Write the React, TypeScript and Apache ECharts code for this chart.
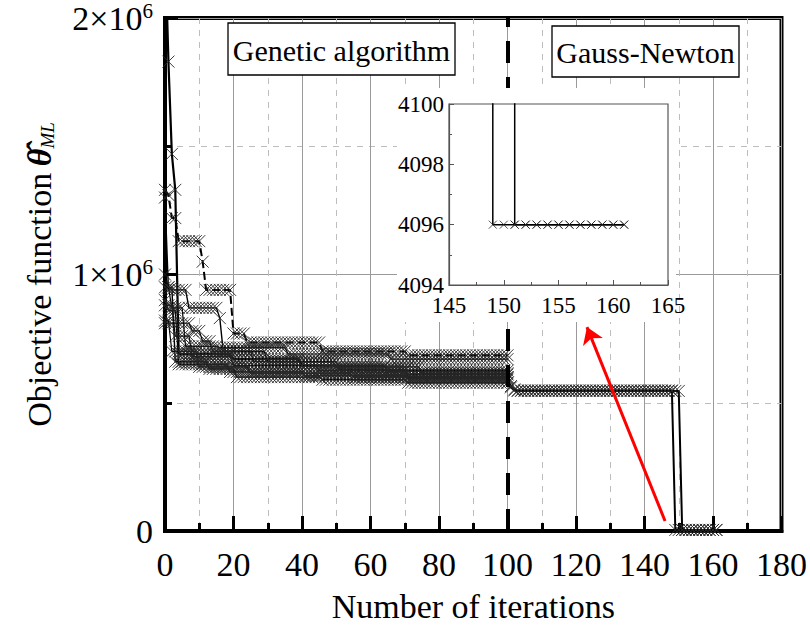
import { useEffect, useRef } from "react";
import * as echarts from "echarts";

type Run = [number, number][];

// Objective values, run-length encoded: [objective value, consecutive iterations]
// Genetic-algorithm runs start at iteration 0
const gaRun1: Run = [[2300000, 1], [1830000, 1], [1470000, 1], [1330000, 1], [690000, 16], [670000, 20], [645000, 25], [625000, 36]];
const gaRun2: Run = [[1330000, 1], [1310000, 1], [1220000, 2], [1130000, 7], [1050000, 1], [940000, 8], [770000, 4], [735000, 22], [700000, 25], [685000, 30]];
const gaRun3: Run = [[1300000, 1], [940000, 6], [870000, 9], [830000, 1], [700000, 13], [660000, 20], [640000, 25], [615000, 26]];
const gaRun4: Run = [[810000, 8], [780000, 3], [740000, 3], [700000, 12], [660000, 25], [630000, 20], [600000, 30]];
const gaRun5: Run = [[1000000, 1], [950000, 2], [660000, 10], [632000, 8], [600000, 25], [590000, 25], [578000, 30]];
const gaRun6: Run = [[900000, 1], [860000, 3], [650000, 15], [620000, 22], [605000, 30], [595000, 30]];
const gaRun7: Run = [[950000, 2], [870000, 4], [720000, 10], [715000, 20], [690000, 30], [670000, 35]];
const gaRun8: Run = [[880000, 3], [760000, 5], [680000, 12], [645000, 25], [625000, 26], [610000, 30]];
const gaRun9: Run = [[820000, 2], [700000, 8], [640000, 15], [615000, 30], [600000, 46]];
// Gauss-Newton runs start at iteration 100
const gnRun1: Run = [[578000, 1], [560000, 1], [548000, 47], [4096, 13]];
const gnRun2: Run = [[590000, 1], [565000, 1], [552000, 1], [546000, 48], [4096, 11]];

const gaStart = 0;
const gnStart = 100;
const switchIteration = 100;
const phaseLabels = ["Genetic algorithm", "Gauss-Newton"];
const xAxisTitle = "Number of iterations";
const arrowFrom = [146, 39000];
const arrowTo = [123.2, 795000];

const FONT = '"Liberation Serif", "Times New Roman", serif';
const CROSS = "path://M0,0L10,10M10,0L0,10";

function expandRuns(runs: Run, start: number): [number, number][] {
  const out: [number, number][] = [];
  let it = start;
  for (const [v, n] of runs) {
    for (let k = 0; k < n; k++) out.push([it++, v]);
  }
  return out;
}

function lineSeries(data: [number, number][], o: { width: number; dash?: number[]; size: number; idx: number; z: number; bw?: number; extra?: any }) {
  return {
    type: "line",
    data,
    xAxisIndex: o.idx,
    yAxisIndex: o.idx,
    symbol: CROSS,
    symbolSize: o.size,
    showAllSymbol: true,
    clip: true,
    silent: true,
    z: o.z,
    itemStyle: { color: "rgba(0,0,0,0)", borderColor: "#262626", borderWidth: o.bw ?? 0.9 },
    lineStyle: { color: "#000", width: o.width, type: o.dash ? o.dash : "solid" },
    emphasis: { disabled: true },
    ...(o.extra || {}),
  };
}

export default function App() {
  const ref = useRef<HTMLDivElement>(null);
  useEffect(() => {
    const chart = echarts.init(ref.current!, null, { renderer: "svg" });
    const ga = [gaRun1, gaRun2, gaRun3, gaRun4, gaRun5, gaRun6, gaRun7, gaRun8, gaRun9].map((r) => expandRuns(r, gaStart));
    const gn = [gnRun1, gnRun2].map((r) => expandRuns(r, gnStart));
    const S = 12;

    const series: any[] = [
      lineSeries(ga[6], { width: 1.2, size: S, idx: 0, z: 3 }),
      lineSeries(ga[7], { width: 1.2, size: S, idx: 0, z: 3 }),
      lineSeries(ga[8], { width: 1.2, size: S, idx: 0, z: 3 }),
      lineSeries(ga[0], {
        width: 2.2, size: S, idx: 0, z: 3,
        extra: {
          markLine: {
            silent: true, symbol: ["none", "none"], label: { show: false },
            lineStyle: { color: "#000", width: 4, type: [22, 14] },
            data: [{ xAxis: switchIteration }],
            z: 4,
          },
        },
      }),
      lineSeries(ga[1], { width: 2, dash: [8, 4], size: S, idx: 0, z: 3 }),
      lineSeries(ga[2], { width: 1.4, size: S, idx: 0, z: 3 }),
      lineSeries(ga[3], { width: 1.2, size: S, idx: 0, z: 3 }),
      lineSeries(ga[4], { width: 1.4, size: S, idx: 0, z: 3 }),
      lineSeries(ga[5], { width: 1.2, size: S, idx: 0, z: 3 }),
      lineSeries(gn[0], { width: 2, size: S, idx: 0, z: 3 }),
      lineSeries(gn[1], {
        width: 2, size: S, idx: 0, z: 3,
        extra: {
          markLine: {
            silent: true, symbol: ["none", "arrow"], symbolSize: 16, label: { show: false },
            lineStyle: { color: "#ff0000", width: 3, type: "solid" },
            data: [[{ coord: arrowFrom }, { coord: arrowTo }]],
            z: 25,
          },
        },
      }),
      lineSeries(gn[0], { width: 1.5, size: 8, idx: 1, z: 22, bw: 0.8 }),
      lineSeries(gn[1], { width: 1.5, size: 8, idx: 1, z: 22, bw: 0.8 }),
    ];

    const rich = {
      b: { fontSize: 34, fontFamily: FONT, color: "#000", lineHeight: 36 },
      s: { fontSize: 21, fontFamily: FONT, color: "#000", lineHeight: 21, verticalAlign: "top" },
    };

    const option: any = {
      animation: false,
      backgroundColor: "#fff",
      grid: [
        { left: 165, top: 17, width: 620, height: 514, show: true, borderColor: "#000", borderWidth: 4 },
        { left: 449, top: 104, width: 219, height: 181 },
      ],
      xAxis: [
        {
          type: "value", gridIndex: 0, min: 0, max: 180, interval: 20,
          axisLine: { lineStyle: { color: "#000", width: 4 } },
          axisTick: { inside: true, length: 15, lineStyle: { color: "#000", width: 3 } },
          minorTick: { show: true, splitNumber: 2, length: 8, lineStyle: { color: "#000", width: 3 } },
          splitLine: { show: true, lineStyle: { color: "#9a9a9a", width: 1 } },
          minorSplitLine: { show: true, lineStyle: { color: "#bdbdbd", width: 1, type: [6, 6] } },
          axisLabel: { fontSize: 34, fontFamily: FONT, color: "#000", margin: 16 },
          name: xAxisTitle, nameLocation: "middle", nameGap: 58,
          nameTextStyle: { fontSize: 34, fontFamily: FONT, color: "#000" },
        },
        {
          type: "value", gridIndex: 1, min: 145, max: 165, interval: 5, z: 21,
          axisLine: { lineStyle: { color: "#555", width: 1.2 } },
          axisTick: { inside: true, length: 5, lineStyle: { color: "#555", width: 1 } },
          minorTick: { show: true, splitNumber: 2, length: 3, lineStyle: { color: "#555", width: 1 } },
          splitLine: { show: false },
          axisLabel: { fontSize: 23, fontFamily: FONT, color: "#000", margin: 9, formatter: (v: number) => String(v) },
        },
      ],
      yAxis: [
        {
          type: "value", gridIndex: 0, min: 0, max: 2000000, interval: 1000000,
          axisLine: { lineStyle: { color: "#000", width: 4 } },
          axisTick: { inside: true, length: 13, lineStyle: { color: "#000", width: 3 } },
          minorTick: { show: true, splitNumber: 2, length: 7, lineStyle: { color: "#000", width: 3 } },
          splitLine: { show: true, lineStyle: { color: "#9a9a9a", width: 1 } },
          minorSplitLine: { show: true, lineStyle: { color: "#bdbdbd", width: 1, type: [6, 6] } },
          axisLabel: {
            margin: 12,
            formatter: (v: number) => (v === 0 ? "{b|0}" : `{b|${v / 1000000}×10}{s|6}`),
            rich,
          },
          name: "{a|Objective function}  {t|\u03B8\u0302}{m|ML}",
          nameLocation: "middle",
          nameGap: 108,
          nameTextStyle: {
            rich: {
              a: { fontSize: 34, fontFamily: FONT, color: "#000", lineHeight: 36 },
              t: { fontSize: 34, fontFamily: FONT, color: "#000", fontWeight: "bold", fontStyle: "italic", lineHeight: 36 },
              m: { fontSize: 19, fontFamily: FONT, color: "#000", fontStyle: "italic", lineHeight: 19, verticalAlign: "bottom" },
            },
          },
        },
        {
          type: "value", gridIndex: 1, min: 4094, max: 4100, interval: 2, z: 21,
          axisLine: { lineStyle: { color: "#555", width: 1.2 } },
          axisTick: { inside: true, length: 5, lineStyle: { color: "#555", width: 1 } },
          minorTick: { show: true, splitNumber: 2, length: 3, lineStyle: { color: "#555", width: 1 } },
          splitLine: { show: false },
          axisLabel: { fontSize: 23, fontFamily: FONT, color: "#000", margin: 5, formatter: (v: number) => String(v) },
        },
      ],
      graphic: [
        {
          type: "rect", z: 19, silent: true,
          shape: { x: 397, y: 88, width: 279, height: 234 },
          style: { fill: "#fff", stroke: null, lineWidth: 0 },
        },
        {
          type: "rect", z: 20, silent: true,
          shape: { x: 449, y: 104, width: 219, height: 181 },
          style: { fill: "#fff", stroke: "#555", lineWidth: 1.2 },
        },
        {
          type: "rect", z: 30, silent: true,
          shape: { x: 228, y: 23, width: 227, height: 52 },
          style: { fill: "#fff", stroke: "#000", lineWidth: 1.3 },
        },
        {
          type: "text", z: 31, silent: true, x: 341.5, y: 50,
          style: { text: phaseLabels[0], fontSize: 30, fontFamily: FONT, fill: "#000", align: "center", verticalAlign: "middle", textAlign: "center", textVerticalAlign: "middle" },
        },
        {
          type: "rect", z: 30, silent: true,
          shape: { x: 552, y: 26, width: 187, height: 51 },
          style: { fill: "#fff", stroke: "#000", lineWidth: 1.3 },
        },
        {
          type: "text", z: 31, silent: true, x: 645.5, y: 52,
          style: { text: phaseLabels[1], fontSize: 30, fontFamily: FONT, fill: "#000", align: "center", verticalAlign: "middle", textAlign: "center", textVerticalAlign: "middle" },
        },
      ],
      series,
    };
    chart.setOption(option);
    return () => chart.dispose();
  }, []);
  return <div ref={ref} style={{ width: 810, height: 630, position: "absolute", left: 0, top: 0, background: "#fff" }} />;
}
